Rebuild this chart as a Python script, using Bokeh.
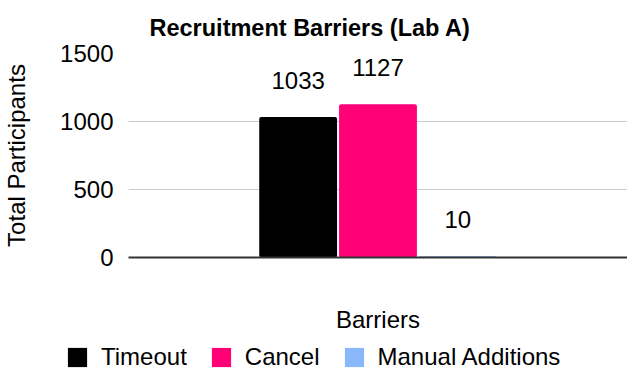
from bokeh.plotting import figure
from bokeh.models import (ColumnDataSource, FactorRange, Range1d, FixedTicker, LabelSet,
                          Legend, LegendItem, Title)
from bokeh.core.properties import value
from bokeh.transform import dodge
from bokeh.embed import file_html
from bokeh.resources import INLINE

# ---- data ----
group = ["Barriers"]
series = ["Timeout", "Cancel", "Manual Additions"]
values = [1033, 1127, 10]
colors = ["#000000", "#ff0077", "#8ab8f8"]
y_ticks = [0, 500, 1000, 1500]

FONT = "Liberation Sans"
FS = "24px"

p = figure(frame_width=499, frame_height=204, output_backend="svg", toolbar_location=None,
           x_range=FactorRange(factors=group, range_padding=0),
           y_range=Range1d(0, 1500), title=None)
p.min_border_left = 0
p.min_border_right = 0
p.min_border_top = 0
p.min_border_bottom = 0
p.outline_line_color = None
p.background_fill_color = "white"
p.border_fill_color = "white"

t = Title(text="Recruitment Barriers (Lab A)", align="left", offset=21,
          text_font=FONT, text_font_size="23.5px", text_font_style="bold",
          text_color="#000000", standoff=25)
p.add_layout(t, "above")

spacing = 0.16
width = 0.156
sources = []
for i, (name, val, col) in enumerate(zip(series, values, colors)):
    src = ColumnDataSource(dict(x=group, top=[val], label=[str(val)]))
    sources.append(src)
    xs = dodge("x", (i - 1) * spacing, range=p.x_range)
    p.vbar(x=xs, top="top", width=width, source=src, fill_color=col,
           line_color=None, border_radius=2)
    lbl = LabelSet(x=xs, y="top", text="label", source=src, y_offset=37,
                   text_align="center", text_baseline="middle",
                   text_font=value(FONT), text_font_size=FS, text_color="#000000")
    p.add_layout(lbl)

# y axis
p.yaxis.ticker = FixedTicker(ticks=y_ticks)
p.yaxis.axis_line_color = None
p.yaxis.major_tick_line_color = None
p.yaxis.minor_tick_line_color = None
p.yaxis.major_tick_out = 0
p.yaxis.major_tick_in = 0
p.yaxis.major_label_standoff = 15
p.yaxis.major_label_text_font = FONT
p.yaxis.major_label_text_font_size = FS
p.yaxis.major_label_text_color = "#000000"
p.yaxis.axis_label = "Total Participants"
p.yaxis.axis_label_text_font = FONT
p.yaxis.axis_label_text_font_size = FS
p.yaxis.axis_label_text_font_style = "normal"
p.yaxis.axis_label_text_color = "#000000"
p.yaxis.axis_label_standoff = 27

# x axis
p.xaxis.axis_line_color = "#333333"
p.xaxis.axis_line_width = 2
p.xaxis.major_tick_line_color = None
p.xaxis.major_tick_out = 0
p.xaxis.major_tick_in = 0
p.xaxis.major_label_standoff = 0
p.xaxis.major_label_text_font_size = "1px"
p.xaxis.major_label_text_color = None
p.xaxis.axis_label = "Barriers"
p.xaxis.axis_label_text_font = FONT
p.xaxis.axis_label_text_font_size = FS
p.xaxis.axis_label_text_font_style = "normal"
p.xaxis.axis_label_text_color = "#000000"
p.xaxis.axis_label_standoff = 48

p.xgrid.grid_line_color = None
p.ygrid.grid_line_color = "#cccccc"
p.ygrid.grid_line_width = 1

# ---- legend strip (separate root; swatches come from the same series) ----
lg = figure(width=618, height=36, output_backend="svg", toolbar_location=None,
            x_range=FactorRange(factors=group), y_range=Range1d(0, 1500),
            x_axis_location=None, y_axis_location=None, title=None)
lg.min_border = 0
lg.outline_line_color = None
lg.grid.visible = False
items = []
for i, (name, col, src) in enumerate(zip(series, colors, sources)):
    r = lg.vbar(x="x", top="top", width=width, source=src, fill_color=col,
                line_color=None, border_radius=2, visible=False)
    items.append(LegendItem(label=name, renderers=[r]))
legend = Legend(items=items, orientation="horizontal", location=(65, 0),
                glyph_width=24, glyph_height=24, label_standoff=12, spacing=22,
                label_text_font=FONT, label_text_font_size=FS,
                label_text_color="#000000", padding=0, margin=0,
                border_line_color=None, background_fill_alpha=0,
                click_policy="none")
lg.add_layout(legend, "center")

open("out.html", "w").write(file_html([p, lg], INLINE))
